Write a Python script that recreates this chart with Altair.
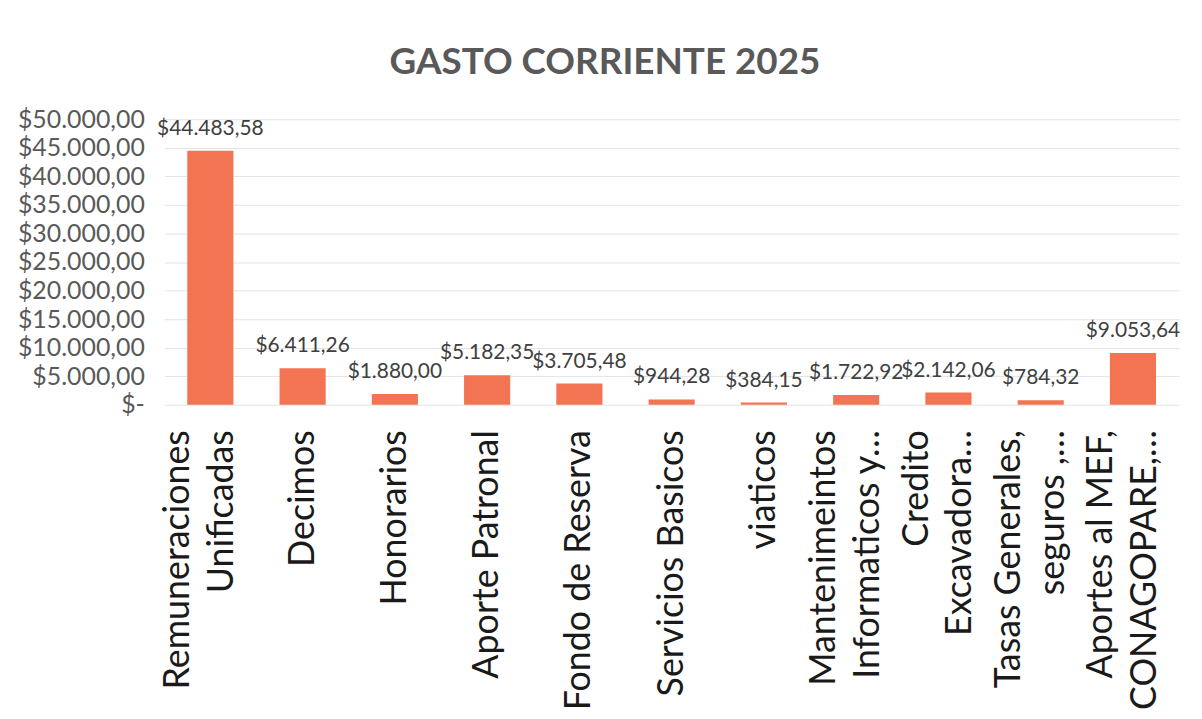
import altair as alt
import pandas as pd

categories = [
    "Remuneraciones|Unificadas",
    "Decimos",
    "Honorarios",
    "Aporte Patronal",
    "Fondo de Reserva",
    "Servicios Basicos",
    "viaticos",
    "Mantenimeintos|Informaticos y…",
    "Credito|Excavadora…",
    "Tasas Generales,|seguros ,…",
    "Aportes al MEF,|CONAGOPARE,…",
]
values = [44483.58, 6411.26, 1880.00, 5182.35, 3705.48, 944.28, 384.15,
          1722.92, 2142.06, 784.32, 9053.64]
y_ticks = [0, 5000, 10000, 15000, 20000, 25000, 30000, 35000, 40000, 45000, 50000]


def fmt(v):
    s = f"{v:,.2f}"
    s = s.replace(",", "_").replace(".", ",").replace("_", ".")
    return "$" + s


labels = [fmt(v) for v in values]
df = pd.DataFrame({"cat": categories, "value": values, "label": labels})

x = alt.X(
    "cat:N",
    sort=categories,
    title=None,
    scale=alt.Scale(paddingInner=0.5, paddingOuter=0.25),
    axis=alt.Axis(
        labelAngle=-90,
        labelAlign="right",
        labelBaseline="middle",
        labelExpr="split(datum.label, '|')",
        labelFontSize=36,
        labelColor="#1a1a1a",
        labelPadding=25,
        labelLineHeight=44,
        labelLimit=600,
        labelOverlap=False,
        labelOffset={"condition": {"test": "indexof(datum.label, '|') >= 0", "value": -32}, "value": 0},
        ticks=False,
        domain=False,
        grid=False,
    ),
)

y = alt.Y(
    "value:Q",
    title=None,
    scale=alt.Scale(domain=[0, 50000], nice=False),
    axis=alt.Axis(
        values=y_ticks,
        tickCount=11,
        labelExpr="datum.value == 0 ? '$-\u00a0\u00a0\u00a0' : '$' + replace(replace(replace(format(datum.value, ',.2f'), ',', '_'), '.', ','), '_', '.')",
        labelFontSize=25,
        labelColor="#595959",
        labelPadding=20,
        labelOverlap=False,
        labelBound=False,
        ticks=False,
        domain=False,
        gridColor="#e3e3e3",
        gridWidth=1,
    ),
)

base = alt.Chart(df)
bars = base.mark_bar(color="#F37452").encode(x=x, y=y)
text = base.mark_text(baseline="alphabetic", dy=-16, fontSize=21, color="#404040").encode(
    x=x, y=y, text="label:N"
)

chart = (
    alt.layer(bars, text)
    .properties(
        width=1020,
        height=287,
        autosize=alt.AutoSizeParams(type="none"),
        padding={"left": 157, "top": 110, "right": 15, "bottom": 310},
        background="white",
        title=alt.TitleParams(
            "GASTO CORRIENTE 2025",
            fontSize=37,
            fontWeight="bold",
            color="#595959",
            anchor="middle",
            dx=-67,
            offset=25,
        ),
    )
    .configure(font="Lato")
    .configure_view(stroke=None)
)

chart.save("out.html", embed_options={"renderer": "svg", "actions": False})
